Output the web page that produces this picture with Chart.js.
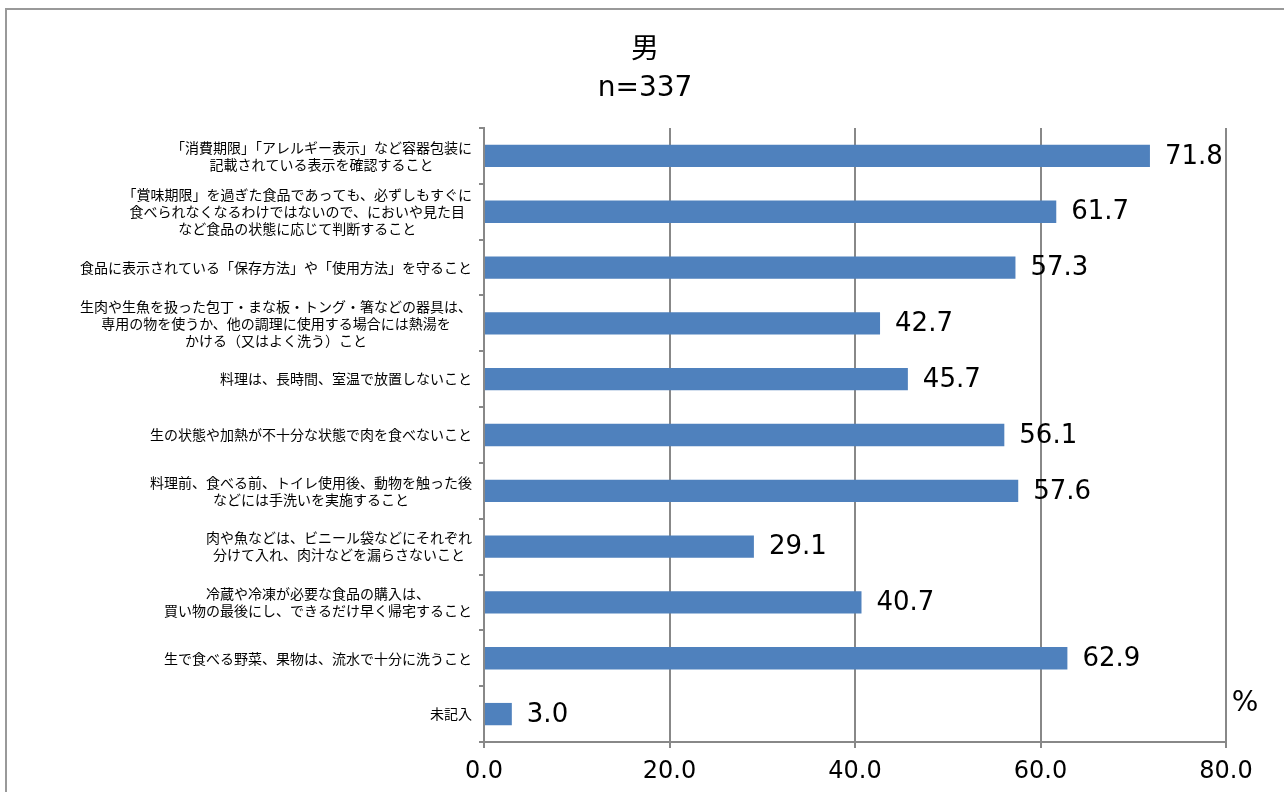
<!DOCTYPE html>
<html lang="ja">
<head>
  <meta charset="UTF-8">
  <title>男 n=337</title>
  <script src="https://cdn.jsdelivr.net/npm/chart.js"></script>
  <style>
    html, body { margin: 0; padding: 0; background: #fff; }
    #wrap { width: 1284px; height: 792px; }
  </style>
</head>
<body>
  <div id="wrap"><canvas id="chart"></canvas></div>

  <script>
    const titleLines = ['男', 'n=337'];

    const categories = [
      ['「消費期限」「アレルギー表示」など容器包装に', '記載されている表示を確認すること'],
      ['「賞味期限」を過ぎた食品であっても、必ずしもすぐに', '食べられなくなるわけではないので、においや見た目', 'など食品の状態に応じて判断すること'],
      ['食品に表示されている「保存方法」や「使用方法」を守ること'],
      ['生肉や生魚を扱った包丁・まな板・トング・箸などの器具は、', '専用の物を使うか、他の調理に使用する場合には熱湯を', 'かける（又はよく洗う）こと'],
      ['料理は、長時間、室温で放置しないこと'],
      ['生の状態や加熱が不十分な状態で肉を食べないこと'],
      ['料理前、食べる前、トイレ使用後、動物を触った後', 'などには手洗いを実施すること'],
      ['肉や魚などは、ビニール袋などにそれぞれ', '分けて入れ、肉汁などを漏らさないこと'],
      ['冷蔵や冷凍が必要な食品の購入は、', '買い物の最後にし、できるだけ早く帰宅すること'],
      ['生で食べる野菜、果物は、流水で十分に洗うこと'],
      ['未記入']
    ];

    const values = [71.8, 61.7, 57.3, 42.7, 45.7, 56.1, 57.6, 29.1, 40.7, 62.9, 3.0];

    const xMin = 0, xMax = 80, xStep = 20;
    const unitLabel = '%';

    const GRAY = '#888888';
    const NUM_FONT = '"DejaVu Sans", sans-serif';
    const JP_FONT = '"Noto Sans CJK JP", sans-serif';

    // outer frame, white background and the two-line title
    const framePlugin = {
      id: 'frame',
      beforeDraw(chart) {
        const ctx = chart.ctx;
        ctx.save();
        ctx.fillStyle = '#fff';
        ctx.fillRect(0, 0, chart.width, chart.height);
        ctx.strokeStyle = '#999';
        ctx.lineWidth = 2;
        ctx.strokeRect(6, 9, chart.width + 20, chart.height + 20);

        ctx.fillStyle = '#000';
        ctx.textAlign = 'center';
        ctx.textBaseline = 'middle';
        ctx.font = '28px "DejaVu Sans", "Noto Sans CJK JP", sans-serif';
        ctx.fillText(titleLines[0], 645, 51);
        ctx.fillText(titleLines[1], 645, 89);
        ctx.restore();
      }
    };

    // category labels: block right-aligned, lines centred within the block
    const yLabelPlugin = {
      id: 'yLabels',
      afterDraw(chart) {
        const ctx = chart.ctx;
        const y = chart.scales.y;
        const rightEdge = chart.chartArea.left - 12;
        const lh = 17;
        ctx.save();
        ctx.font = '14px ' + JP_FONT;
        ctx.fillStyle = '#000';
        ctx.textAlign = 'center';
        ctx.textBaseline = 'middle';
        categories.forEach((lines, i) => {
          const cy = y.getPixelForValue(i);
          const widest = Math.max(...lines.map(l => ctx.measureText(l).width));
          const cx = rightEdge - widest / 2;
          const top = cy - (lines.length - 1) * lh / 2;
          lines.forEach((l, k) => ctx.fillText(l, cx, top + k * lh));
        });
        ctx.restore();
      }
    };

    // value labels and unit
    const valuePlugin = {
      id: 'values',
      afterDatasetsDraw(chart) {
        const ctx = chart.ctx;
        const meta = chart.getDatasetMeta(0);
        ctx.save();
        ctx.font = '26px ' + NUM_FONT;
        ctx.fillStyle = '#000';
        ctx.textAlign = 'left';
        ctx.textBaseline = 'middle';
        meta.data.forEach((bar, i) => {
          ctx.fillText(values[i].toFixed(1), bar.x + 15, bar.y + 1);
        });
        ctx.font = '28px ' + NUM_FONT;
        ctx.textAlign = 'center';
        ctx.fillText(unitLabel, chart.chartArea.right + 19, chart.chartArea.bottom - 38);
        ctx.restore();
      }
    };

    new Chart(document.getElementById('chart'), {
      type: 'bar',
      data: {
        labels: categories,
        datasets: [{
          data: values,
          backgroundColor: '#4F81BD',
          borderWidth: 0,
          categoryPercentage: 1,
          barPercentage: 0.4
        }]
      },
      options: {
        indexAxis: 'y',
        responsive: true,
        maintainAspectRatio: false,
        animation: false,
        layout: { padding: { left: 0, right: 58, top: 128, bottom: 0 } },
        plugins: {
          legend: { display: false },
          tooltip: { enabled: false },
          title: { display: false }
        },
        scales: {
          x: {
            min: xMin,
            max: xMax,
            ticks: {
              stepSize: xStep,
              color: '#000',
              padding: 9,
              font: { family: NUM_FONT, size: 24 },
              callback: v => v.toFixed(1)
            },
            grid: { color: GRAY, lineWidth: 2, tickLength: 6, drawTicks: true },
            border: { color: GRAY, width: 2 },
            afterFit: s => { s.height = 50; }
          },
          y: {
            ticks: { display: false },
            grid: { drawOnChartArea: false, color: GRAY, lineWidth: 2, tickLength: 5, offset: true },
            border: { color: GRAY, width: 2 },
            afterFit: s => { s.width = 484; }
          }
        }
      },
      plugins: [framePlugin, yLabelPlugin, valuePlugin]
    });
  </script>
</body>
</html>
